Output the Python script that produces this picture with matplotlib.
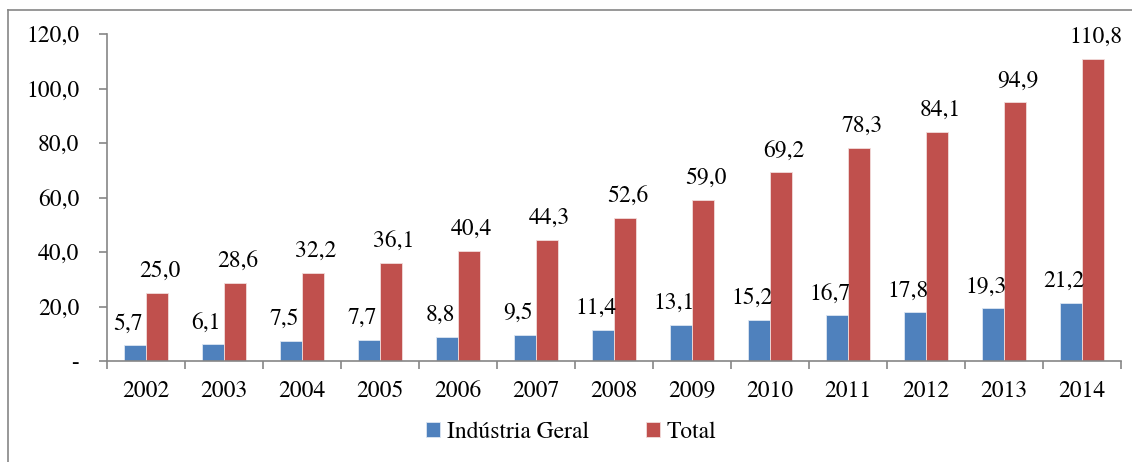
import matplotlib.pyplot as plt
import numpy as np
from matplotlib.lines import Line2D

anos = ['2002', '2003', '2004', '2005', '2006', '2007', '2008',
        '2009', '2010', '2011', '2012', '2013', '2014']
industria = [5.7, 6.1, 7.5, 7.7, 8.8, 9.5, 11.4, 13.1, 15.2, 16.7, 17.8, 19.3, 21.2]
total = [25.0, 28.6, 32.2, 36.1, 40.4, 44.3, 52.6, 59.0, 69.2, 78.3, 84.1, 94.9, 110.8]
yticks = [0, 20, 40, 60, 80, 100, 120]

plt.rcParams['font.family'] = 'serif'
plt.rcParams['font.serif'] = ['TeX Gyre Termes', 'Liberation Serif', 'DejaVu Serif']
plt.rcParams['font.size'] = 17

azul = '#4F81BD'
vermelho = '#C0504D'
cinza = '#868686'

fig = plt.figure(figsize=(11.32, 4.62), dpi=100)
ax = fig.add_axes([107 / 1132, 1 - 361 / 462, (1121 - 107) / 1132, (361 - 34) / 462])

x = np.arange(len(anos))
w = 0.282
ax.bar(x - w / 2, industria, w, color=azul, edgecolor='#DCE6F2', linewidth=0.6, label='Indústria Geral')
ax.bar(x + w / 2, total, w, color=vermelho, edgecolor='#F2DCDB', linewidth=0.6, label='Total')

# rótulos de dados
for xi, v in zip(x, industria):
    ax.annotate(f'{v:.1f}'.replace('.', ','), (xi - w / 2, v), xytext=(-5, 8),
                textcoords='offset points', ha='center', va='bottom')
for xi, v in zip(x, total):
    ax.annotate(f'{v:.1f}'.replace('.', ','), (xi + w / 2, v), xytext=(2, 8),
                textcoords='offset points', ha='center', va='bottom')

ax.set_xlim(-0.5, len(anos) - 0.5)
ax.set_ylim(0, 120)
ax.set_yticks(yticks)
ax.set_yticklabels(['-'] + [f'{t:.1f}'.replace('.', ',') for t in yticks[1:]])
ax.set_xticks(x)
ax.set_xticklabels(anos)
ax.set_xticks(np.arange(len(anos) + 1) - 0.5, minor=True)
ax.tick_params(axis='x', which='major', length=0, pad=14)
ax.tick_params(axis='x', which='minor', length=6, width=1.2, color=cinza, direction='out')
ax.tick_params(axis='y', length=6, width=1.2, color=cinza, direction='out', pad=14)

for s in ['top', 'right']:
    ax.spines[s].set_visible(False)
for s in ['left', 'bottom']:
    ax.spines[s].set_color(cinza)
    ax.spines[s].set_linewidth(1.2)

ax.legend(loc='center', bbox_to_anchor=(571 / 1132, 1 - 432 / 462), bbox_transform=fig.transFigure,
          ncol=2, frameon=False, handlelength=0.6, handleheight=0.6, handletextpad=0.3,
          columnspacing=2.4, fontsize=17)

# moldura do gráfico
fig.add_artist(Line2D([8 / 1132, 8 / 1132], [0, 1 - 10 / 462], transform=fig.transFigure,
                      color=cinza, linewidth=1.2))
fig.add_artist(Line2D([8 / 1132, 1], [1 - 10 / 462, 1 - 10 / 462], transform=fig.transFigure,
                      color=cinza, linewidth=1.2))

fig.savefig('out.png', dpi=100)
